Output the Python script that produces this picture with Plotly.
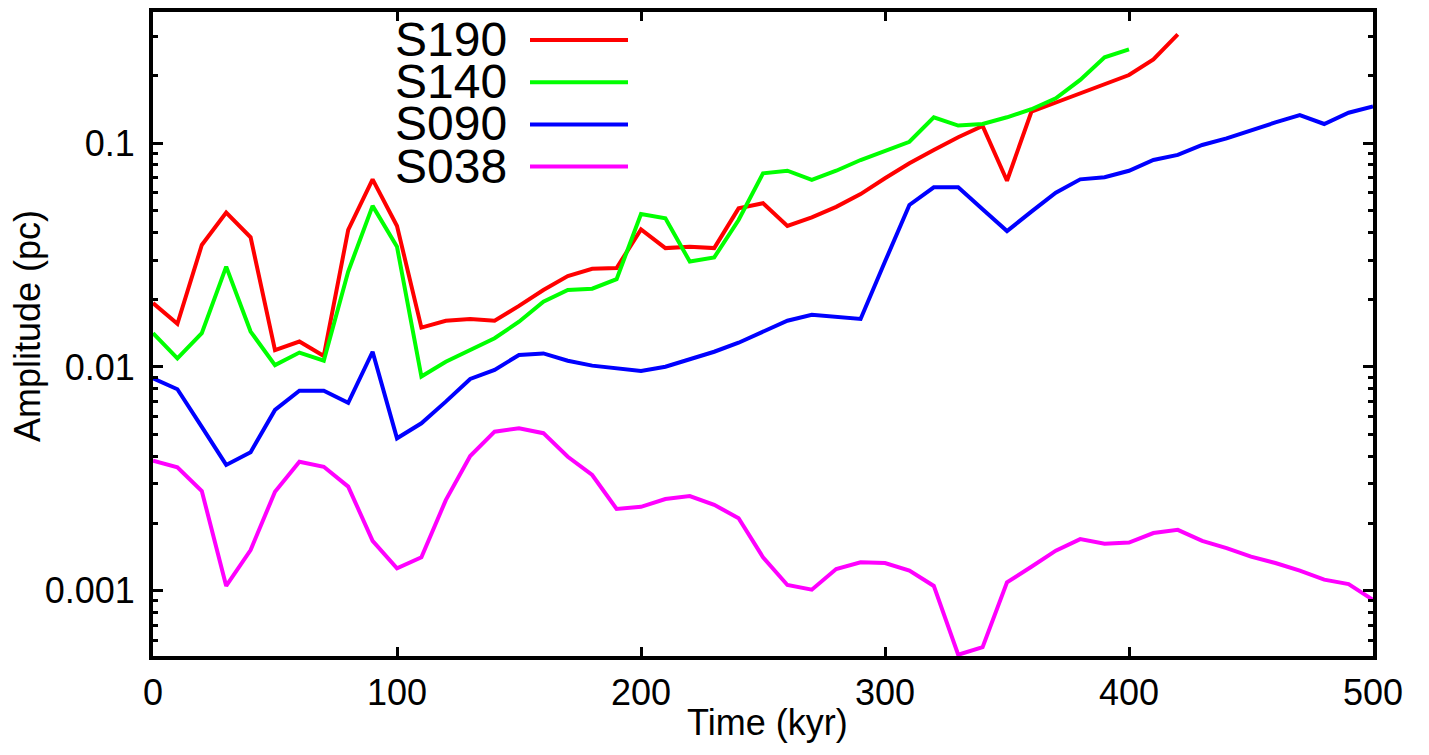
import math
import plotly.graph_objects as go

# ---------------- data ----------------
time_s190 = list(range(0, 430, 10))
time_s140 = list(range(0, 410, 10))
time_full = list(range(0, 510, 10))

s190 = [0.0193, 0.0156, 0.0351, 0.049, 0.038, 0.0119, 0.0130, 0.0112, 0.041, 0.069,
        0.0427, 0.0150, 0.0161, 0.0164, 0.0161, 0.01875, 0.0221, 0.0255, 0.0275, 0.0277,
        0.0412, 0.034, 0.0345, 0.034, 0.0512, 0.054, 0.0427, 0.0467, 0.052, 0.0593,
        0.0698, 0.0814, 0.0933, 0.1064, 0.1195, 0.068, 0.1384, 0.152, 0.168, 0.1825,
        0.202, 0.2373, 0.307]

s140 = [0.01416, 0.01094, 0.01416, 0.0281, 0.0144, 0.0102, 0.0116, 0.01067, 0.0267, 0.0525,
        0.0345, 0.00906, 0.01056, 0.0119, 0.01344, 0.01594, 0.0196, 0.0221, 0.0224, 0.0247,
        0.0483, 0.0462, 0.0296, 0.0309, 0.0454, 0.0734, 0.0754, 0.0686, 0.0754, 0.0842,
        0.0927, 0.1016, 0.1307, 0.120, 0.122, 0.1307, 0.142, 0.159, 0.192, 0.2423,
        0.263]

s090 = [0.0089, 0.00795, 0.0054, 0.00365, 0.00416, 0.00643, 0.00783, 0.00783, 0.00692, 0.0117,
        0.0048, 0.0056, 0.0070, 0.00884, 0.0097, 0.01132, 0.0115, 0.01067, 0.01014, 0.00987,
        0.0096, 0.01003, 0.01082, 0.0117, 0.01284, 0.0143, 0.0161, 0.0171, 0.01667, 0.0164,
        0.0296, 0.053, 0.0636, 0.0636, 0.0507, 0.0405, 0.0495, 0.0601, 0.069, 0.0705,
        0.0754, 0.0842, 0.0887, 0.0983, 0.1052, 0.1147, 0.124, 0.1337, 0.122, 0.137,
        0.146]

s038 = [0.00381, 0.00356, 0.00279, 0.00105, 0.00152, 0.00277, 0.00377, 0.00358, 0.00292, 0.00167,
        0.00126, 0.00141, 0.00254, 0.0040, 0.00514, 0.00532, 0.00506, 0.00397, 0.00329, 0.00232,
        0.00237, 0.00257, 0.00265, 0.00242, 0.00211, 0.00141, 0.00106, 0.00101, 0.00125, 0.00134,
        0.00133, 0.00123, 0.00105, 0.000517, 0.000559, 0.00109, 0.00128, 0.00151, 0.00170, 0.00162,
        0.00164, 0.00181, 0.00187, 0.00167, 0.00155, 0.00142, 0.00133, 0.00123, 0.00112, 0.00107,
        0.00091]

series_names = ["S190", "S140", "S090", "S038"]
series_colors = ["#ff0000", "#00ff00", "#0000ff", "#ff00ff"]

x_ticks = [0, 100, 200, 300, 400, 500]
y_ticks = [0.001, 0.01, 0.1]
y_ticktext = ["0.001", "0.01", "0.1"]

# ---------------- figure ----------------
FONT = "Liberation Sans, Arial, Helvetica, sans-serif"
BODY = 8                      # default page body margin
W, H = 1421, 747
ML, MR, MT, MB = 145, 56, 4, 99
PW, PH = W - ML - MR, H - MT - MB


def px_to_paper_x(px):
    return (px - BODY - ML) / PW


def px_to_paper_y(py):
    return (H - MB - (py - BODY)) / PH


fig = go.Figure()
xs = [time_s190, time_s140, time_full, time_full]
ys = [s190, s140, s090, s038]
for name, col, x, y in zip(series_names, series_colors, xs, ys):
    fig.add_trace(go.Scatter(x=x, y=y, mode="lines", name=name,
                             line=dict(color=col, width=4), showlegend=False))

minor_vals = []
for dec in [0.0001, 0.001, 0.01, 0.1]:
    for k in range(2, 10):
        minor_vals.append(k * dec)

axis_common = dict(
    showline=True, linecolor="black", linewidth=4, mirror="ticks",
    ticks="inside", tickcolor="black", tickwidth=3,
    showgrid=False, zeroline=False, automargin=False,
    tickfont=dict(family=FONT, size=36, color="black"),
)

fig.update_xaxes(range=[0, 500], tickvals=x_ticks, ticklen=9,
                 ticklabelstandoff=2, **axis_common)
fig.update_yaxes(type="log", range=[-3.292, -0.413],
                 tickvals=y_ticks, ticktext=y_ticktext, ticklen=10,
                 ticklabelstandoff=7,
                 minor=dict(tickvals=minor_vals, ticks="inside", ticklen=5,
                            tickwidth=2.5, tickcolor="black", showgrid=False),
                 **axis_common)

annotations = [
    dict(text="Time (kyr)", x=px_to_paper_x(767), y=px_to_paper_y(722),
         xref="paper", yref="paper", xanchor="center", yanchor="middle",
         showarrow=False, font=dict(family=FONT, size=36, color="black")),
    dict(text="Amplitude (pc)", x=px_to_paper_x(27), y=px_to_paper_y(326),
         xref="paper", yref="paper", xanchor="center", yanchor="middle",
         textangle=-90, showarrow=False,
         font=dict(family=FONT, size=36, color="black")),
]

# legend: key text on the left (one multi-line text block), coloured sample on the right
ROW_GAP = 42.2
legend_rows_px = [40, 40 + ROW_GAP, 40 + 2 * ROW_GAP, 40 + 3 * ROW_GAP]
legend_text = "<br>".join(f"<span style='font-size:48px'>{n}</span>" for n in series_names)
annotations.append(dict(text=legend_text, x=px_to_paper_x(509),
                        y=px_to_paper_y(sum(legend_rows_px) / 4),
                        xref="paper", yref="paper", xanchor="right", align="right",
                        yanchor="middle", showarrow=False,
                        font=dict(family=FONT, size=ROW_GAP / 1.3, color="black")))

shapes = []
for col, ry in zip(series_colors, legend_rows_px):
    shapes.append(dict(type="line", xref="paper", yref="paper",
                       x0=px_to_paper_x(530), x1=px_to_paper_x(628),
                       y0=px_to_paper_y(ry), y1=px_to_paper_y(ry),
                       line=dict(color=col, width=4)))

fig.update_layout(
    width=W, height=H,
    margin=dict(l=ML, r=MR, t=MT, b=MB, pad=0, autoexpand=False),
    paper_bgcolor="white", plot_bgcolor="white",
    annotations=annotations, shapes=shapes,
    showlegend=False,
)

fig.write_html("out.html")
